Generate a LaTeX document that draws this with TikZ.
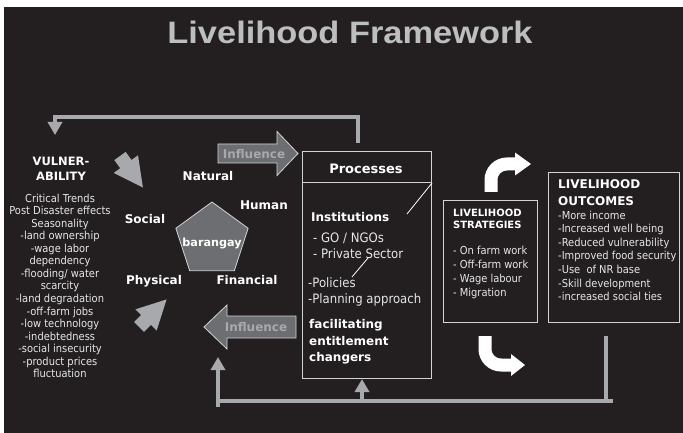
\documentclass[tikz,border=0pt]{standalone}
\usepackage{fontspec}
\setmainfont{DejaVu Sans Condensed}
\newfontfamily\headfont{DejaVu Sans}
\newfontfamily\titlefont{Liberation Sans}
\usetikzlibrary{arrows.meta,shapes.geometric}

\definecolor{bgdark}{HTML}{231F20}
\definecolor{linegray}{HTML}{A7A9AC}
\definecolor{pentfill}{HTML}{6D6E71}
\definecolor{boxline}{HTML}{D1D3D4}
\definecolor{titlegray}{HTML}{BCBEC0}
\definecolor{bodytext}{HTML}{E6E7E8}

\tikzset{
  txt/.style={text=bodytext, inner sep=0pt, font=\fontsize{#1}{#1}\selectfont},
  hd/.style={text=white, inner sep=0pt, font=\headfont\bfseries\fontsize{#1}{#1}\selectfont},
  panel/.style={draw=boxline, line width=1pt, inner sep=0pt, anchor=north west},
  fb/.style={linegray, line width=3.5pt},
  fbtip/.style={-{Triangle[width=14pt,length=13pt]}},
  fatarrow/.style={fill=linegray},
  influence/.style={fill=pentfill, draw=boxline, line width=0.8pt},
  bentarrow/.style={white, line width=13pt, rounded corners=16pt}
}

\begin{document}
\begin{tikzpicture}[x=1pt,y=-1pt]
\useasboundingbox (0,0) rectangle (683,433);
\fill[bgdark] (4,7) rectangle (683,433);

% heading
\node[anchor=base, inner sep=0pt, text=titlegray, xscale=1.11,
      font=\titlefont\bfseries\fontsize{31}{31}\selectfont] (title) at (350,43.5) {Livelihood Framework};

% vulnerability column
\node[hd=11.5, anchor=base] (vul1) at (61,165) {VULNER-};
\node[hd=11.5, anchor=base] (vul2) at (61,181) {ABILITY};
\foreach \t [count=\i] in {Critical Trends, Post Disaster effects, Seasonality,
    -land ownership, -wage labor, dependency, -flooding/ water, scarcity,
    -land degradation, -off-farm jobs, -low technology, -indebtedness,
    -social insecurity, -product prices, fluctuation}
  \node[txt=11, anchor=base] (vt\i) at (60,{202+12.57*(\i-1)}) {\t};

% feedback from processes to vulnerability
\coordinate (tfA) at (358,143);
\coordinate (tfC) at (55,117);
\coordinate (tfD) at (55,135);
\draw[fb, fbtip] (tfA) |- (tfC) -- (tfD);

% short fat arrows beside the assets
\fill[fatarrow, shift={(120,156)}, rotate=-54]
  (0,-7) -- (10,-7) -- (10,-15) -- (39,0) -- (10,15) -- (10,7) -- (0,7) -- cycle;
\fill[fatarrow, shift={(139,327)}, rotate=45]
  (0,-7) -- (10,-7) -- (10,-15) -- (39,0) -- (10,15) -- (10,7) -- (0,7) -- cycle;

% assets pentagon
\node[regular polygon, regular polygon sides=5, minimum size=76pt, inner sep=0pt,
      fill=pentfill, draw=boxline, line width=0.8pt] (pent) at (212,240) {};
\node[hd=11.2, anchor=base] (bar) at (212,246) {barangay};
\node[hd=12, anchor=base] (natural) at (208,181) {Natural};
\node[hd=12, anchor=base] (human) at (264,209) {Human};
\node[hd=12, anchor=base] (social) at (145,223) {Social};
\node[hd=12, anchor=base] (physical) at (154,284) {Physical};
\node[hd=12, anchor=base] (financial) at (247,284) {Financial};

% influence arrows
\draw[influence] (218,144) -- (277,144) -- (277,131.5) -- (298,153.5)
  -- (277,175.5) -- (277,163) -- (218,163) -- cycle;
\node[hd=12, text=linegray, anchor=base] (inf1) at (254,159) {Influence};
\draw[influence] (296,316) -- (227,316) -- (227,305) -- (204,327)
  -- (227,349) -- (227,338) -- (296,338) -- cycle;
\node[hd=12, text=linegray, anchor=base] (inf2) at (256,331) {Influence};

% processes box
\node[panel, minimum width=129pt, minimum height=227pt] (proc) at (302,151) {};
\coordinate (hdrY) at (0,183);
\draw[boxline, line width=1pt] (proc.west |- hdrY) -- (proc.east |- hdrY);
\coordinate (dA) at (407,214);
\coordinate (dB) at (368,258);
\coordinate (dC) at (352,277);
\draw[white, line width=0.8pt] (proc.east |- hdrY) -- (dA);
\draw[white, line width=0.8pt] (dB) -- (dC);
\node[hd=13, anchor=base] (proctitle) at (366,174) {Processes};
\node[hd=12, anchor=base west] (inst) at (311,221) {Institutions};
\node[txt=13, anchor=base west] (p1) at (313,242) {- GO / NGOs};
\node[txt=13, anchor=base west] (p2) at (313,258) {- Private Sector};
\node[txt=13, anchor=base west] (p3) at (308,287) {-Policies};
\node[txt=13, anchor=base west] (p4) at (308,303) {-Planning approach};
\node[hd=12, anchor=base west] (f1) at (309,328) {facilitating};
\node[hd=12, anchor=base west] (f2) at (309,345) {entitlement};
\node[hd=12, anchor=base west] (f3) at (309,361) {changers};

% strategies box
\node[panel, minimum width=94pt, minimum height=122pt] (strat) at (443,200) {};
\node[hd=10, anchor=base west] (sh1) at (453,216) {LIVELIHOOD};
\node[hd=10, anchor=base west] (sh2) at (453,229) {STRATEGIES};
\foreach \t [count=\i] in {- On farm work, - Off-farm work, - Wage labour, - Migration}
  \node[txt=11, anchor=base west] (st\i) at (453,{254+14*(\i-1)}) {\t};

% outcomes box
\node[panel, minimum width=131pt, minimum height=150pt] (outc) at (548,172) {};
\node[hd=12, anchor=base west] (oh1) at (558,189) {LIVELIHOOD};
\node[hd=12, anchor=base west] (oh2) at (558,205) {OUTCOMES};
\foreach \t [count=\i] in {-More income, -Increased well being, -Reduced vulnerability,
    -Improved food security, {-Use\ \ of NR base}, -Skill development, -increased social ties}
  \node[txt=11, anchor=base west] (oc\i) at (558,{219+13.6*(\i-1)}) {\t};

% bent white arrows between strategies and outcomes
\coordinate (wA) at (491,192);
\coordinate (wB) at (516,164);
\draw[bentarrow] (wA) |- (wB);
\fill[white] (515,152.5) -- (531,164) -- (515,175.5) -- cycle;
\coordinate (wC) at (485,336);
\coordinate (wD) at (512,365);
\draw[bentarrow] (wC) |- (wD);
\fill[white] (511,354) -- (525,365) -- (511,376) -- cycle;

% feedback from outcomes along the bottom
\coordinate (bl) at (216,401);
\coordinate (br) at (613,401);
\coordinate (rv) at (606,336);
\coordinate (rvb) at (606,401);
\coordinate (lv) at (218,407);
\coordinate (lvt) at (218,357);
\coordinate (mv) at (362,401);
\coordinate (mvt) at (362,379);
\draw[fb] (bl) -- (br);
\draw[fb] (rv) -- (rvb);
\draw[fb, fbtip] (lv) -- (lvt);
\draw[fb, fbtip] (mv) -- (mvt);
\end{tikzpicture}
\end{document}
